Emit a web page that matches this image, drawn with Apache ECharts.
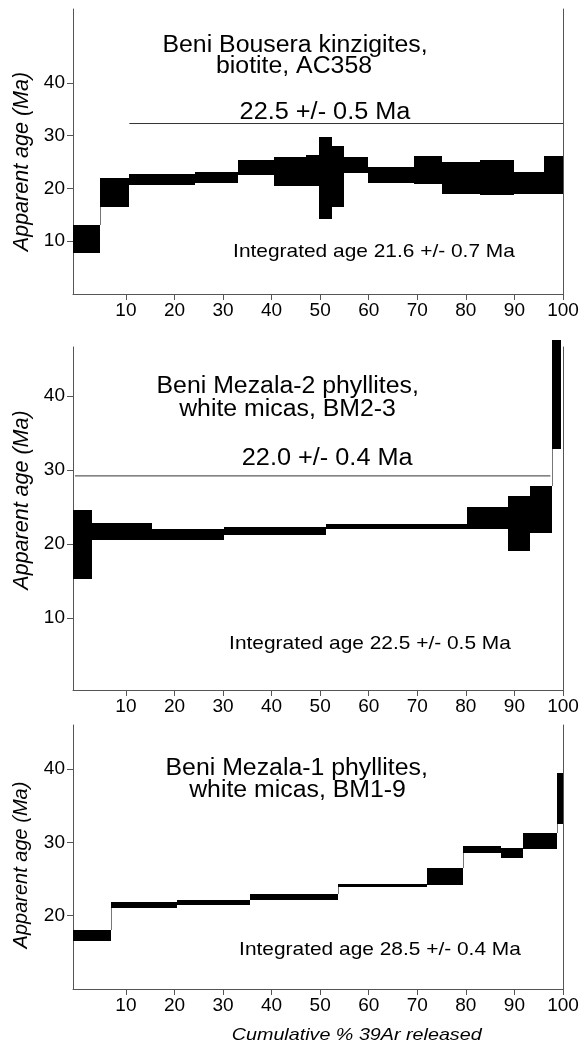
<!DOCTYPE html>
<html><head><meta charset="utf-8">
<script src="https://cdn.jsdelivr.net/npm/echarts@6/dist/echarts.min.js"></script>
<style>html,body{margin:0;padding:0;background:#fff}#c{width:583px;height:1045px}</style>
</head><body><div id="c"></div>
<script>
// ---------- data ----------
const xTickValues = [10, 20, 30, 40, 50, 60, 70, 80, 90, 100];
const yTicksA = [10, 20, 30, 40];
const yTicksC = [20, 30, 40];

// Panel 1: Beni Bousera kinzigites, biotite, AC358
const p1Cum  = [-0.9, 4.65, 10.7, 24.3, 33.0, 40.5, 47.0, 49.7, 52.5, 54.9, 59.9, 69.3, 75.1, 82.9, 89.9, 96.0, 100];
const p1Low  = [7.7, 16.45, 20.6, 21.0, 22.6, 20.4, 20.5, 14.2, 16.45, 22.9, 21.0, 20.9, 19.0, 18.7, 19.0, 19.0];
const p1High = [13.1, 21.95, 22.8, 23.1, 25.3, 25.9, 26.4, 29.7, 28.1, 25.9, 24.0, 26.2, 25.1, 25.4, 23.1, 26.2];
const p1Plateau = [10.7, 100, 32.3];

// Panel 2: Beni Mezala-2 phyllites, white micas, BM2-3
const p2Cum  = [-0.9, 3.0, 15.4, 30.2, 51.3, 80.3, 88.7, 93.3, 97.7, 99.65];
const p2Low  = [15.3, 20.5, 20.6, 21.2, 22.0, 22.0, 19.1, 21.5, 32.8];
const p2High = [24.6, 22.9, 22.1, 22.3, 22.7, 25.0, 26.5, 27.9, 47.6];
const p2Plateau = [-0.5, 97.4, 29.2];

// Panel 3: Beni Mezala-1 phyllites, white micas, BM1-9
const p3Cum  = [-0.9, 6.9, 20.6, 35.5, 53.7, 71.9, 79.4, 87.3, 91.7, 98.7, 100];
const p3Low  = [16.5, 21.1, 21.5, 22.2, 23.9, 24.2, 28.6, 27.8, 29.1, 32.5];
const p3High = [18.1, 21.9, 22.1, 23.0, 24.35, 26.45, 29.45, 29.2, 31.3, 39.5];

// ---------- layout ----------
const FONT = '"Liberation Sans", Arial, Helvetica, sans-serif';
const X_MIN = -0.9, X_MAX = 100;
const AX = '#555';
const grids = [
  {left: 73, right: 20, top: 9, bottom: 751, ymin: 0, ymax: 54, ticks: yTicksA},
  {left: 73, right: 20, top: 347, bottom: 355, ymin: 0.3, ymax: 46.6, ticks: yTicksA},
  {left: 73, right: 20, top: 725, bottom: 56, ymin: 10, ymax: 46, ticks: yTicksC}
];

function makeRender(lo, hi) {
  return function (params, api) {
    const i = params.dataIndex;
    const x0 = api.value(0), x1 = api.value(1), l = api.value(2), h = api.value(3);
    const a = api.coord([x0, h]).map(Math.round), b = api.coord([x1, l]).map(Math.round);
    const children = [];
    if (i > 0) {
      const segs = [];
      if (hi[i - 1] < l) segs.push([hi[i - 1], l]);
      if (h < lo[i - 1]) segs.push([h, lo[i - 1]]);
      segs.forEach(s => {
        const p = api.coord([x0, s[0]]), q = api.coord([x0, s[1]]);
        const xx = a[0] + 0.5;
        children.push({type: 'line', shape: {x1: xx, y1: Math.round(p[1]), x2: xx, y2: Math.round(q[1])},
          style: {stroke: '#777', lineWidth: 1}});
      });
    }
    children.push({type: 'rect', shape: {x: a[0], y: a[1], width: b[0] - a[0], height: b[1] - a[1]},
      style: {fill: '#000'}});
    return {type: 'group', children};
  };
}
function stepData(cum, lo, hi) {
  return lo.map((v, i) => [cum[i], cum[i + 1], lo[i], hi[i]]);
}

const xAxes = [], yAxes = [];
grids.forEach((g, gi) => {
  xAxes.push({
    type: 'value', gridIndex: gi, min: X_MIN, max: X_MAX,
    axisLine: {show: true, onZero: false, lineStyle: {color: AX, width: 1}},
    axisTick: {show: true, length: 6, customValues: xTickValues, lineStyle: {color: AX}},
    axisLabel: {customValues: xTickValues, fontSize: 19, color: '#000', fontFamily: FONT, margin: 7},
    splitLine: {show: false}
  });
  yAxes.push({
    type: 'value', gridIndex: gi, min: g.ymin, max: g.ymax, position: 'left',
    axisLine: {show: true, onZero: false, lineStyle: {color: AX, width: 1}},
    axisTick: {show: true, length: 6, customValues: g.ticks, lineStyle: {color: AX}},
    axisLabel: {customValues: g.ticks, fontSize: 19, color: '#000', fontFamily: FONT, margin: 8},
    splitLine: {show: false}
  });
  yAxes.push({
    type: 'value', gridIndex: gi, min: g.ymin, max: g.ymax, position: 'right',
    axisLine: {show: true, onZero: false, lineStyle: {color: AX, width: 1}},
    axisTick: {show: false}, axisLabel: {show: false}, splitLine: {show: false}
  });
});

const panels = [
  {cum: p1Cum, lo: p1Low, hi: p1High, plateau: p1Plateau},
  {cum: p2Cum, lo: p2Low, hi: p2High, plateau: p2Plateau},
  {cum: p3Cum, lo: p3Low, hi: p3High, plateau: null}
];
const series = [];
panels.forEach((p, gi) => {
  series.push({
    type: 'custom', xAxisIndex: gi, yAxisIndex: gi * 2, clip: false,
    renderItem: makeRender(p.lo, p.hi), encode: {x: [0, 1], y: [2, 3]},
    data: stepData(p.cum, p.lo, p.hi), silent: true, animation: false
  });
  if (p.plateau) {
    series.push({
      type: 'line', xAxisIndex: gi, yAxisIndex: gi * 2, symbol: 'none', silent: true, animation: false,
      lineStyle: {color: '#333', width: 1},
      data: [[p.plateau[0], p.plateau[2]], [p.plateau[1], p.plateau[2]]]
    });
  }
});

function txt(t, x, y, size, sx, opts) {
  opts = opts || {};
  return {
    type: 'text', x: x, y: y, scaleX: opts.rot ? 1 : sx, scaleY: opts.rot ? sx : 1,
    rotation: opts.rot || 0, silent: true,
    style: {
      text: t, x: 0, y: 0, fill: '#000',
      font: (opts.italic ? 'italic ' : '') + size + 'px ' + FONT,
      align: 'center', verticalAlign: 'middle', textAlign: 'center', textVerticalAlign: 'middle'
    }
  };
}
const graphics = [
  txt('Beni Bousera kinzigites,', 295, 45.3, 23, 1.08),
  txt('biotite, AC358', 294, 67, 23, 1.08),
  txt('22.5 +/- 0.5 Ma', 325, 112.3, 23, 1.1),
  txt('Integrated age 21.6 +/- 0.7 Ma', 374, 251.8, 19, 1.1),
  txt('Beni Mezala-2 phyllites,', 287.7, 387, 23, 1.08),
  txt('white micas, BM2-3', 287.5, 409.3, 23, 1.08),
  txt('22.0 +/- 0.4 Ma', 327.2, 458.3, 23, 1.1),
  txt('Integrated age 22.5 +/- 0.5 Ma', 370, 644, 19, 1.1),
  txt('Beni Mezala-1 phyllites,', 296.7, 768.7, 23, 1.08),
  txt('white micas, BM1-9', 297.5, 790.3, 23, 1.08),
  txt('Integrated age 28.5 +/- 0.4 Ma', 380, 950, 19, 1.1),
  txt('Apparent age (Ma)', 21.7, 161.5, 21.5, 1, {italic: true, rot: Math.PI / 2}),
  txt('Apparent age (Ma)', 21.7, 500, 21.5, 1, {italic: true, rot: Math.PI / 2}),
  txt('Apparent age (Ma)', 21.7, 865, 20, 1, {italic: true, rot: Math.PI / 2}),
  txt('Cumulative % 39Ar released', 356.7, 1035, 17, 1.16, {italic: true})
];

const chart = echarts.init(document.getElementById('c'), null, {renderer: 'canvas'});
chart.setOption({
  backgroundColor: '#fff',
  animation: false,
  grid: grids.map(g => ({left: g.left, right: g.right, top: g.top, bottom: g.bottom, containLabel: false})),
  xAxis: xAxes,
  yAxis: yAxes,
  series: series,
  graphic: graphics
});
</script>
</body></html>
